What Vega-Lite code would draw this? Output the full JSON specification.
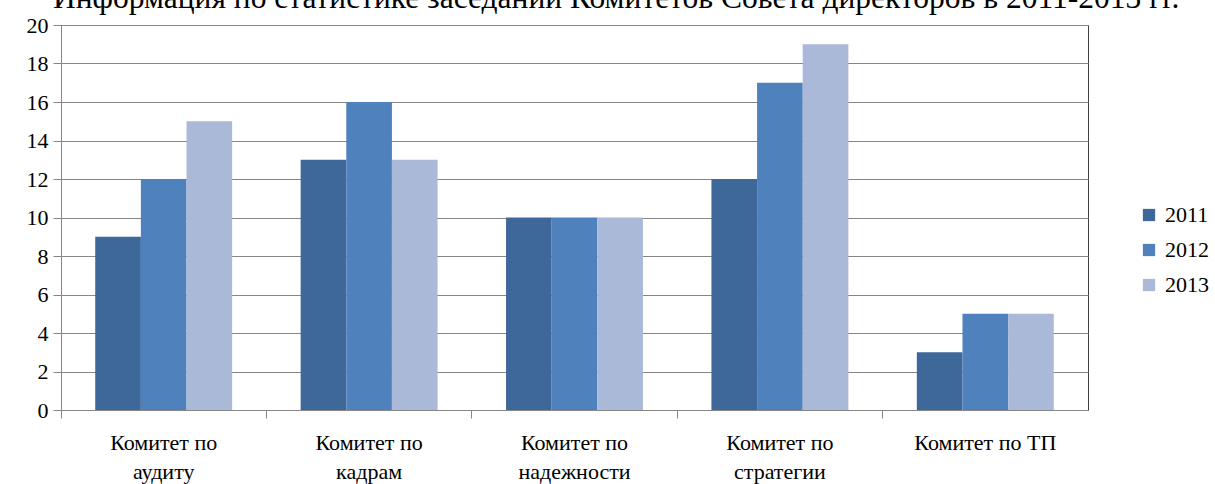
{
  "$schema": "https://vega.github.io/schema/vega-lite/v6.json",
  "autosize": "none",
  "width": 1027,
  "height": 385,
  "padding": {"left": 61, "top": 25, "right": 127, "bottom": 74},
  "background": "white",
  "config": {
    "font": "Liberation Serif",
    "view": {"stroke": "#404040", "strokeWidth": 1}
  },
  "title": {
    "text": "Информация по статистике заседаний Комитетов Совета директоров в 2011-2013 гг.",
    "font": "Liberation Serif",
    "fontSize": 31.5,
    "fontWeight": "normal",
    "color": "black",
    "anchor": "start",
    "frame": "group",
    "baseline": "alphabetic",
    "offset": -25,
    "dx": -8
  },
  "data": {
    "values": [
      {"committee": "Комитет по|аудиту", "year": "2011", "value": 9},
      {"committee": "Комитет по|аудиту", "year": "2012", "value": 12},
      {"committee": "Комитет по|аудиту", "year": "2013", "value": 15},
      {"committee": "Комитет по|кадрам", "year": "2011", "value": 13},
      {"committee": "Комитет по|кадрам", "year": "2012", "value": 16},
      {"committee": "Комитет по|кадрам", "year": "2013", "value": 13},
      {"committee": "Комитет по|надежности", "year": "2011", "value": 10},
      {"committee": "Комитет по|надежности", "year": "2012", "value": 10},
      {"committee": "Комитет по|надежности", "year": "2013", "value": 10},
      {"committee": "Комитет по|стратегии", "year": "2011", "value": 12},
      {"committee": "Комитет по|стратегии", "year": "2012", "value": 17},
      {"committee": "Комитет по|стратегии", "year": "2013", "value": 19},
      {"committee": "Комитет по ТП", "year": "2011", "value": 3},
      {"committee": "Комитет по ТП", "year": "2012", "value": 5},
      {"committee": "Комитет по ТП", "year": "2013", "value": 5}
    ]
  },
  "mark": {"type": "bar"},
  "encoding": {
    "x": {
      "field": "committee",
      "type": "nominal",
      "sort": null,
      "scale": {"paddingInner": 0, "paddingOuter": 0},
      "axis": {
        "title": null,
        "labelAngle": 0,
        "labelExpr": "split(datum.label, '|')",
        "labelFont": "Liberation Serif",
        "labelFontSize": 22,
        "labelColor": "black",
        "labelLineHeight": 29,
        "labelPadding": 14,
        "labelBaseline": "top",
        "bandPosition": 0,
        "domainColor": "#868686",
        "tickColor": "#868686",
        "tickSize": 8,
        "grid": false
      }
    },
    "xOffset": {
      "field": "year",
      "type": "nominal",
      "scale": {"paddingInner": 0, "paddingOuter": 0.75}
    },
    "y": {
      "field": "value",
      "type": "quantitative",
      "scale": {"domain": [0, 20], "nice": false},
      "axis": {
        "title": null,
        "values": [0, 2, 4, 6, 8, 10, 12, 14, 16, 18, 20],
        "labelFont": "Liberation Serif",
        "labelFontSize": 22,
        "labelColor": "black",
        "labelPadding": 5,
        "domainColor": "#868686",
        "tickColor": "#868686",
        "tickSize": 8,
        "gridColor": "#868686",
        "gridWidth": 1
      }
    },
    "color": {
      "field": "year",
      "type": "nominal",
      "scale": {"domain": ["2011", "2012", "2013"], "range": ["#3E6899", "#4F81BD", "#AAB9D7"]},
      "legend": {
        "title": null,
        "orient": "none",
        "legendX": 1077,
        "legendY": 179,
        "symbolType": "square",
        "symbolSize": 150,
        "symbolStrokeWidth": 0,
        "labelFont": "Liberation Serif",
        "labelFontSize": 22,
        "labelColor": "black",
        "rowPadding": 13,
        "labelOffset": 5
      }
    }
  }
}
